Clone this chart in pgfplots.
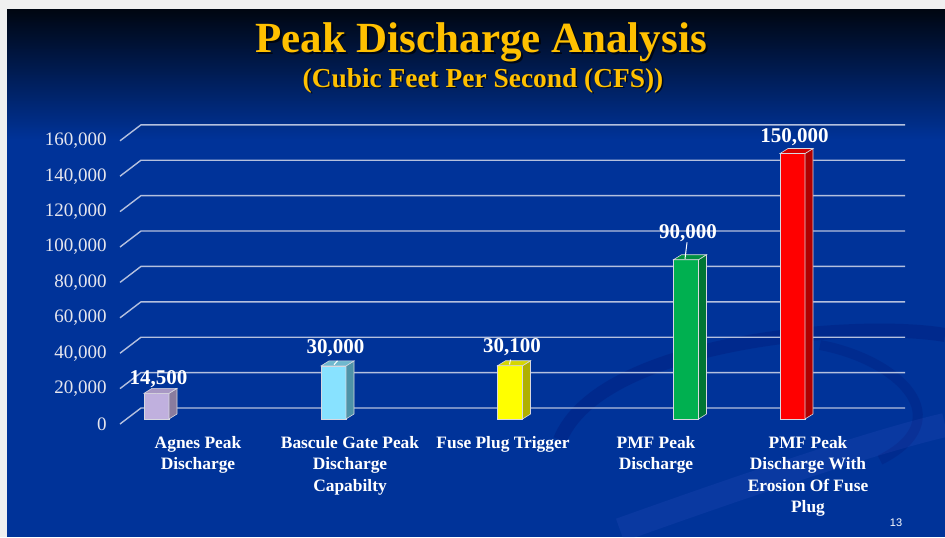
\documentclass[border=0pt]{standalone}
\usepackage{fontspec}
\setmainfont{Liberation Serif}
\setsansfont{Liberation Sans}
\usepackage{pgfplots}
\usepackage{pgfplotstable}
\pgfplotsset{compat=1.18}
\definecolor{bgblue}{HTML}{003399}
\definecolor{bgtop}{HTML}{000611}
\definecolor{gold}{HTML}{FFC000}
\definecolor{gridc}{HTML}{B4C0DE}
\definecolor{tickc}{HTML}{E6E6EE}
\definecolor{edgec}{HTML}{D8D8E0}
\definecolor{front0}{HTML}{C0B0DE}\definecolor{side0}{HTML}{8A7C9E}\definecolor{top0}{HTML}{A898C4}
\definecolor{front1}{HTML}{88E2FF}\definecolor{side1}{HTML}{4E93A8}\definecolor{top1}{HTML}{6FB8CE}
\definecolor{front2}{HTML}{FFFF00}\definecolor{side2}{HTML}{B0B000}\definecolor{top2}{HTML}{D6D600}
\definecolor{front3}{HTML}{00B050}\definecolor{side3}{HTML}{007534}\definecolor{top3}{HTML}{008F40}
\definecolor{front4}{HTML}{FF0000}\definecolor{side4}{HTML}{B00000}\definecolor{top4}{HTML}{D40000}

\pgfplotstableread{
x y off
156.5 14500 4.4
333.5 30000 6.4
510 30100 6.4
686 90000 10.4
792.5 150000 5.4
}\bars

\pgfplotsset{
  frontbar/.style={ybar, bar width=12.5pt, bar shift=0pt, fill=#1, draw=edgec, line width=0.4pt},
  face/.style={fill=#1, draw=edgec, line width=0.3pt, no markers},
  gline/.style={gridc, line width=0.7pt, no markers},
}

\begin{document}
\begin{tikzpicture}
\begin{scope}[x=0.5pt,y=-0.5pt]
\useasboundingbox (0,0) rectangle (945,537);
\fill[bgblue] (0,0) rectangle (945,537);
\shade[top color=bgtop, bottom color=bgblue] (0,9) rectangle (945,140);
\draw[blue!35!black, opacity=0.18, line width=7] (560,440) .. controls (600,340) and (860,320) .. (945,335);
\draw[blue!35!black, opacity=0.15, line width=5] (880,460) .. controls (960,420) and (900,360) .. (820,345);
\draw[blue!50!white, opacity=0.08, line width=12] (620,530) .. controls (760,480) and (880,440) .. (945,425);
\fill[white!94!black] (0,0) rectangle (945,9);
\fill[white!94!black] (0,0) rectangle (7,537);
\node[font=\fontsize{21.5}{25}\selectfont\bfseries, text=black, opacity=0.7, anchor=base] at (483,54) {Peak Discharge Analysis};
\node[font=\fontsize{21.5}{25}\selectfont\bfseries, text=gold, anchor=base] at (481,52) {Peak Discharge Analysis};
\node[font=\fontsize{13.7}{16}\selectfont\bfseries, text=black, opacity=0.7, anchor=base] at (484.5,88.5) {(Cubic Feet Per Second (CFS))};
\node[font=\fontsize{13.7}{16}\selectfont\bfseries, text=gold, anchor=base] at (483,87) {(Cubic Feet Per Second (CFS))};
\node[font=\sffamily\fontsize{5.5}{6.5}\selectfont, text=white] at (896,523) {13};
\end{scope}

\begin{axis}[
  at={(70.5pt,-209.5pt)}, anchor=south west,
  scale only axis, width=382pt, height=147.1pt,
  xmin=141, xmax=905, ymin=0, ymax=166215,
  clip=false,
  axis line style={draw=none},
  tick style={draw=none},
  major tick length=0pt,
  ytick={0,20000,40000,60000,80000,100000,120000,140000,160000},
  scaled y ticks=false,
  /pgf/number format/.cd, fixed, precision=0, 1000 sep={,}, assume math mode=true, /pgfplots/.cd,
  yticklabel style={font=\fontsize{9.5}{11}\selectfont, text=tickc, anchor=east, inner sep=0pt, xshift=-17pt, yshift=-2.5pt},
  xtick={198,350,503,656,808},
  xticklabels={{Agnes Peak\\Discharge},{Bascule Gate Peak\\Discharge\\Capabilty},{Fuse Plug Trigger},{PMF Peak\\Discharge},{PMF Peak\\Discharge With\\Erosion Of Fuse\\Plug}},
  xticklabel style={font=\fontsize{8.7}{10.7}\selectfont\bfseries, text=white, align=center, anchor=north, inner sep=0pt, yshift=-8.5pt},
]
% gridlines (back wall with diagonal to front)
\addplot[gline] coordinates {(120,-2825) (141,6215) (905,6215)};
\addplot[gline] coordinates {(120,17175) (141,26215) (905,26215)};
\addplot[gline] coordinates {(120,37175) (141,46215) (905,46215)};
\addplot[gline] coordinates {(120,57175) (141,66215) (905,66215)};
\addplot[gline] coordinates {(120,77175) (141,86215) (905,86215)};
\addplot[gline] coordinates {(120,97175) (141,106215) (905,106215)};
\addplot[gline] coordinates {(120,117175) (141,126215) (905,126215)};
\addplot[gline] coordinates {(120,137175) (141,146215) (905,146215)};
\addplot[gline] coordinates {(120,157175) (141,166215) (905,166215)};
% front faces
\addplot[frontbar=front0, skip coords between index={1}{5}] table[x=x,y=y] {\bars};
\addplot[frontbar=front1, skip coords between index={0}{1}, skip coords between index={2}{5}] table[x=x,y=y] {\bars};
\addplot[frontbar=front2, skip coords between index={0}{2}, skip coords between index={3}{5}] table[x=x,y=y] {\bars};
\addplot[frontbar=front3, skip coords between index={0}{3}, skip coords between index={4}{5}] table[x=x,y=y] {\bars};
\addplot[frontbar=front4, skip coords between index={0}{4}] table[x=x,y=y] {\bars};
% side faces (depth: 8 units right, 2825 units up)
\addplot[face=side0] coordinates {(169,0) (177,2825) (177,17325) (169,14500)} -- cycle;
\addplot[face=side1] coordinates {(346,0) (354,2825) (354,32825) (346,30000)} -- cycle;
\addplot[face=side2] coordinates {(522.5,0) (530.5,2825) (530.5,32925) (522.5,30100)} -- cycle;
\addplot[face=side3] coordinates {(698.5,0) (706.5,2825) (706.5,92825) (698.5,90000)} -- cycle;
\addplot[face=side4] coordinates {(805,0) (813,2825) (813,152825) (805,150000)} -- cycle;
% top faces
\addplot[face=top0] coordinates {(144,14500) (169,14500) (177,17325) (152,17325)} -- cycle;
\addplot[face=top1] coordinates {(321,30000) (346,30000) (354,32825) (329,32825)} -- cycle;
\addplot[face=top2] coordinates {(497.5,30100) (522.5,30100) (530.5,32925) (505.5,32925)} -- cycle;
\addplot[face=top3] coordinates {(673.5,90000) (698.5,90000) (706.5,92825) (681.5,92825)} -- cycle;
\addplot[face=top4] coordinates {(780,150000) (805,150000) (813,152825) (788,152825)} -- cycle;
% leader lines
\addplot[white, line width=0.5pt, no markers] coordinates {(334,30700) (337.5,32900)};
\addplot[white, line width=0.5pt, no markers] coordinates {(509.5,30800) (510.5,33600)};
\addplot[white, line width=0.5pt, no markers] coordinates {(685,90500) (687,99800)};
% value labels
\addplot[only marks, mark=*, mark size=0pt, mark options={draw=none,fill=none},
  point meta=explicit,
  visualization depends on={\thisrow{off} \as \off},
  nodes near coords,
  every node near coord/.append style={font=\fontsize{10.5}{12}\selectfont\bfseries, text=white, anchor=base, inner sep=0pt, yshift=\off pt, xshift=1pt},
] table[x=x,y=y,meta=y] {\bars};
\end{axis}
\end{tikzpicture}
\end{document}
